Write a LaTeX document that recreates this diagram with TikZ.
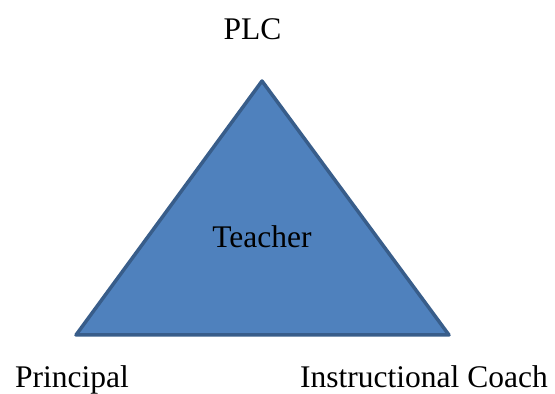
\documentclass[tikz,border=0pt]{standalone}
\usepackage{fontspec}
\setmainfont{Liberation Serif}
\usetikzlibrary{positioning}
\definecolor{triblue}{HTML}{4F81BD}
\definecolor{triedge}{HTML}{385D8A}

\begin{document}
\begin{tikzpicture}[
x=1pt, y=1pt,
lbl/.style={inner sep=0pt, font=\fontsize{31.5}{36}\selectfont},
tri/.style={fill=triblue, draw=triedge, line width=3.5pt, line join=round},
]
\useasboundingbox (0,0) rectangle (555,394);

\coordinate (apex) at (262,313);
\coordinate (left) at (76,59);
\coordinate (right) at (449,59);

\draw[tri] (apex) -- (left) -- (right) -- cycle;

\node[lbl, anchor=base] (plc) at (252.5,354) {PLC};
\node[lbl, anchor=base] (teacher) at (262,146) {Teacher};
\node[lbl, anchor=base west] (principal) at (15,6) {Principal};
\node[lbl, anchor=base east] (coach) at (548,6) {Instructional Coach};
\end{tikzpicture}
\end{document}
